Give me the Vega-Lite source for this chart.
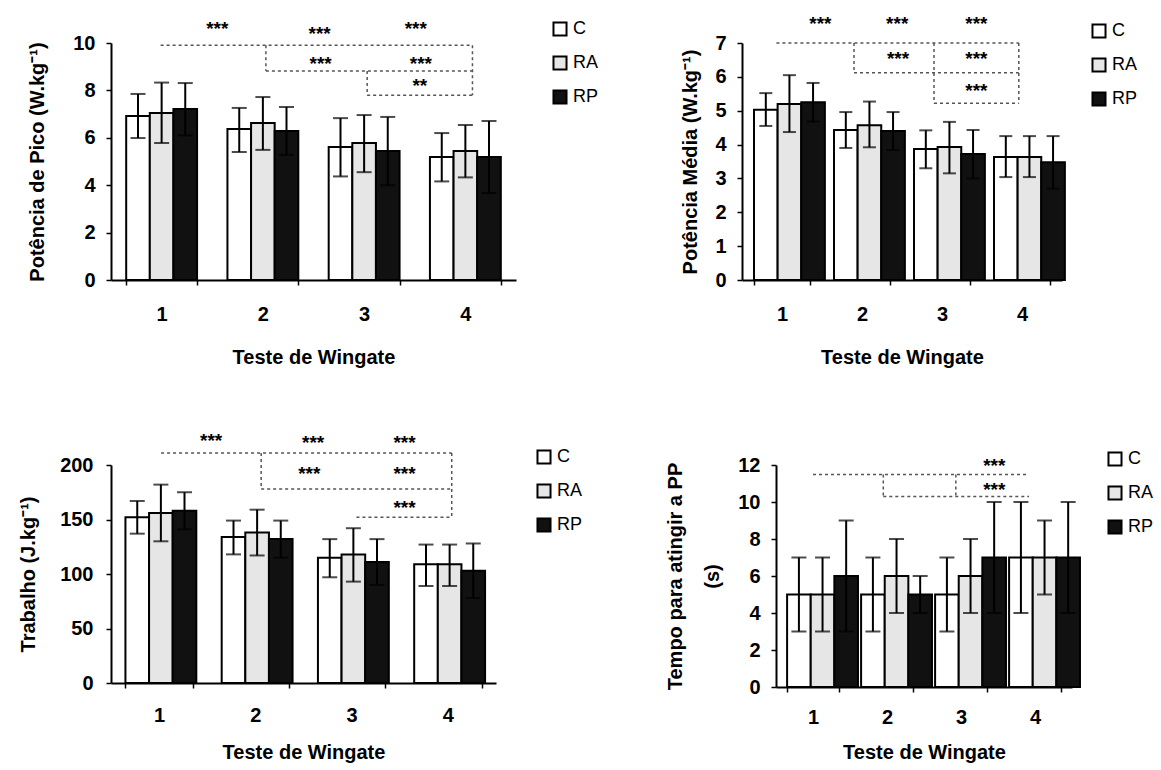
{
  "$schema": "https://vega.github.io/schema/vega-lite/v6.json",
  "background": "white",
  "padding": {"left": 18, "top": 14, "right": 5, "bottom": 5},
  "config": {
    "font": "Liberation Sans",
    "view": {"stroke": null},
    "axis": {
      "domainColor": "black", "domainWidth": 2, "tickColor": "black", "tickWidth": 1.5, "tickSize": 5,
      "grid": false, "labelFont": "Liberation Sans", "labelFontWeight": "bold", "labelFontSize": 20,
      "labelColor": "black", "titleFont": "Liberation Sans", "titleFontWeight": "bold", "titleFontSize": 20,
      "titleColor": "black", "labelOverlap": false
    },
    "axisX": {"labelAngle": 0, "labelPadding": 19, "titlePadding": 23, "tickBand": "extent"},
    "axisY": {"labelPadding": 11},
    "legend": {
      "orient": "none", "symbolType": "square", "symbolSize": 170, "symbolStrokeColor": "black",
      "symbolStrokeWidth": 2, "labelFontSize": 18, "labelFont": "Liberation Sans", "labelColor": "black",
      "rowPadding": 12, "padding": 0, "labelOffset": 4
    }
  },
  "datasets": {
    "bars": [
      {"painel": "P1", "teste": "1", "grupo": "C", "media": 6.92, "lo": 5.99, "hi": 7.85},
      {"painel": "P1", "teste": "1", "grupo": "RA", "media": 7.05, "lo": 5.78, "hi": 8.33},
      {"painel": "P1", "teste": "1", "grupo": "RP", "media": 7.22, "lo": 6.1, "hi": 8.31},
      {"painel": "P1", "teste": "2", "grupo": "C", "media": 6.37, "lo": 5.4, "hi": 7.26},
      {"painel": "P1", "teste": "2", "grupo": "RA", "media": 6.62, "lo": 5.49, "hi": 7.72},
      {"painel": "P1", "teste": "2", "grupo": "RP", "media": 6.29, "lo": 5.28, "hi": 7.3},
      {"painel": "P1", "teste": "3", "grupo": "C", "media": 5.61, "lo": 4.37, "hi": 6.83},
      {"painel": "P1", "teste": "3", "grupo": "RA", "media": 5.78, "lo": 4.55, "hi": 6.96},
      {"painel": "P1", "teste": "3", "grupo": "RP", "media": 5.44, "lo": 4.0, "hi": 6.88},
      {"painel": "P1", "teste": "4", "grupo": "C", "media": 5.19, "lo": 4.16, "hi": 6.2},
      {"painel": "P1", "teste": "4", "grupo": "RA", "media": 5.44, "lo": 4.33, "hi": 6.54},
      {"painel": "P1", "teste": "4", "grupo": "RP", "media": 5.19, "lo": 3.67, "hi": 6.71},
      {"painel": "P2", "teste": "1", "grupo": "C", "media": 5.03, "lo": 4.55, "hi": 5.52},
      {"painel": "P2", "teste": "1", "grupo": "RA", "media": 5.2, "lo": 4.37, "hi": 6.05},
      {"painel": "P2", "teste": "1", "grupo": "RP", "media": 5.25, "lo": 4.68, "hi": 5.82},
      {"painel": "P2", "teste": "2", "grupo": "C", "media": 4.43, "lo": 3.9, "hi": 4.96},
      {"painel": "P2", "teste": "2", "grupo": "RA", "media": 4.57, "lo": 3.92, "hi": 5.27},
      {"painel": "P2", "teste": "2", "grupo": "RP", "media": 4.4, "lo": 3.84, "hi": 4.96},
      {"painel": "P2", "teste": "3", "grupo": "C", "media": 3.87, "lo": 3.3, "hi": 4.42},
      {"painel": "P2", "teste": "3", "grupo": "RA", "media": 3.93, "lo": 3.15, "hi": 4.67},
      {"painel": "P2", "teste": "3", "grupo": "RP", "media": 3.72, "lo": 3.0, "hi": 4.43},
      {"painel": "P2", "teste": "4", "grupo": "C", "media": 3.63, "lo": 3.04, "hi": 4.25},
      {"painel": "P2", "teste": "4", "grupo": "RA", "media": 3.63, "lo": 3.04, "hi": 4.25},
      {"painel": "P2", "teste": "4", "grupo": "RP", "media": 3.48, "lo": 2.7, "hi": 4.25},
      {"painel": "P3", "teste": "1", "grupo": "C", "media": 152, "lo": 137, "hi": 167},
      {"painel": "P3", "teste": "1", "grupo": "RA", "media": 156, "lo": 130, "hi": 182},
      {"painel": "P3", "teste": "1", "grupo": "RP", "media": 158, "lo": 141, "hi": 175},
      {"painel": "P3", "teste": "2", "grupo": "C", "media": 134, "lo": 118, "hi": 149},
      {"painel": "P3", "teste": "2", "grupo": "RA", "media": 138, "lo": 117, "hi": 159},
      {"painel": "P3", "teste": "2", "grupo": "RP", "media": 132, "lo": 115, "hi": 149},
      {"painel": "P3", "teste": "3", "grupo": "C", "media": 115, "lo": 97, "hi": 132},
      {"painel": "P3", "teste": "3", "grupo": "RA", "media": 118, "lo": 93, "hi": 142},
      {"painel": "P3", "teste": "3", "grupo": "RP", "media": 111, "lo": 90, "hi": 132},
      {"painel": "P3", "teste": "4", "grupo": "C", "media": 109, "lo": 89, "hi": 127},
      {"painel": "P3", "teste": "4", "grupo": "RA", "media": 109, "lo": 89, "hi": 127},
      {"painel": "P3", "teste": "4", "grupo": "RP", "media": 103, "lo": 78, "hi": 128},
      {"painel": "P4", "teste": "1", "grupo": "C", "media": 5, "lo": 3, "hi": 7},
      {"painel": "P4", "teste": "1", "grupo": "RA", "media": 5, "lo": 3, "hi": 7},
      {"painel": "P4", "teste": "1", "grupo": "RP", "media": 6, "lo": 3, "hi": 9},
      {"painel": "P4", "teste": "2", "grupo": "C", "media": 5, "lo": 3, "hi": 7},
      {"painel": "P4", "teste": "2", "grupo": "RA", "media": 6, "lo": 4, "hi": 8},
      {"painel": "P4", "teste": "2", "grupo": "RP", "media": 5, "lo": 4, "hi": 6},
      {"painel": "P4", "teste": "3", "grupo": "C", "media": 5, "lo": 3, "hi": 7},
      {"painel": "P4", "teste": "3", "grupo": "RA", "media": 6, "lo": 4, "hi": 8},
      {"painel": "P4", "teste": "3", "grupo": "RP", "media": 7, "lo": 4, "hi": 10},
      {"painel": "P4", "teste": "4", "grupo": "C", "media": 7, "lo": 4, "hi": 10},
      {"painel": "P4", "teste": "4", "grupo": "RA", "media": 7, "lo": 5, "hi": 9},
      {"painel": "P4", "teste": "4", "grupo": "RP", "media": 7, "lo": 4, "hi": 10}
    ],
    "brackets": [
      {"painel": "P1", "xa": 0.99, "xb": 4.07, "ya": 9.9, "yb": 9.9},
      {"painel": "P1", "xa": 2.03, "xb": 4.07, "ya": 8.82, "yb": 8.82},
      {"painel": "P1", "xa": 2.03, "xb": 2.03, "ya": 9.9, "yb": 8.82},
      {"painel": "P1", "xa": 4.07, "xb": 4.07, "ya": 9.9, "yb": 7.8},
      {"painel": "P1", "xa": 3.03, "xb": 4.07, "ya": 7.8, "yb": 7.8},
      {"painel": "P1", "xa": 3.03, "xb": 3.03, "ya": 8.82, "yb": 7.8},
      {"painel": "P2", "xa": 0.93, "xb": 3.96, "ya": 7.0, "yb": 7.0},
      {"painel": "P2", "xa": 1.9, "xb": 1.9, "ya": 7.0, "yb": 6.12},
      {"painel": "P2", "xa": 1.9, "xb": 3.96, "ya": 6.12, "yb": 6.12},
      {"painel": "P2", "xa": 2.9, "xb": 2.9, "ya": 7.0, "yb": 5.22},
      {"painel": "P2", "xa": 3.96, "xb": 3.96, "ya": 7.0, "yb": 5.22},
      {"painel": "P2", "xa": 2.9, "xb": 3.96, "ya": 5.22, "yb": 5.22},
      {"painel": "P3", "xa": 1.02, "xb": 4.04, "ya": 211, "yb": 211},
      {"painel": "P3", "xa": 2.06, "xb": 2.06, "ya": 211, "yb": 178},
      {"painel": "P3", "xa": 2.06, "xb": 4.04, "ya": 178, "yb": 178},
      {"painel": "P3", "xa": 4.04, "xb": 4.04, "ya": 211, "yb": 152},
      {"painel": "P3", "xa": 3.05, "xb": 4.04, "ya": 152, "yb": 152},
      {"painel": "P4", "xa": 1.0, "xb": 3.9, "ya": 11.48, "yb": 11.48},
      {"painel": "P4", "xa": 1.95, "xb": 1.95, "ya": 11.48, "yb": 10.3},
      {"painel": "P4", "xa": 1.95, "xb": 3.92, "ya": 10.3, "yb": 10.3},
      {"painel": "P4", "xa": 2.93, "xb": 2.93, "ya": 11.48, "yb": 10.3}
    ],
    "stars": [
      {"painel": "P1", "txt": "***", "xs": 1.55, "ys": 10.76},
      {"painel": "P1", "txt": "***", "xs": 2.56, "ys": 10.55},
      {"painel": "P1", "txt": "***", "xs": 3.51, "ys": 10.76},
      {"painel": "P1", "txt": "***", "xs": 2.57, "ys": 9.28},
      {"painel": "P1", "txt": "***", "xs": 3.56, "ys": 9.28},
      {"painel": "P1", "txt": "**", "xs": 3.55, "ys": 8.36},
      {"painel": "P2", "txt": "***", "xs": 1.48, "ys": 7.68},
      {"painel": "P2", "txt": "***", "xs": 2.44, "ys": 7.68},
      {"painel": "P2", "txt": "***", "xs": 3.43, "ys": 7.68},
      {"painel": "P2", "txt": "***", "xs": 2.45, "ys": 6.65},
      {"painel": "P2", "txt": "***", "xs": 3.43, "ys": 6.65},
      {"painel": "P2", "txt": "***", "xs": 3.43, "ys": 5.7},
      {"painel": "P3", "txt": "***", "xs": 1.54, "ys": 226},
      {"painel": "P3", "txt": "***", "xs": 2.6, "ys": 224},
      {"painel": "P3", "txt": "***", "xs": 3.55, "ys": 224},
      {"painel": "P3", "txt": "***", "xs": 2.56, "ys": 195},
      {"painel": "P3", "txt": "***", "xs": 3.55, "ys": 195},
      {"painel": "P3", "txt": "***", "xs": 3.55, "ys": 164},
      {"painel": "P4", "txt": "***", "xs": 3.45, "ys": 12.15},
      {"painel": "P4", "txt": "***", "xs": 3.45, "ys": 10.86}
    ]
  },
  "resolve": {"scale": {"color": "independent"}, "legend": {"color": "independent"}},
  "spacing": 64,
  "vconcat": [
    {
      "spacing": 81,
      "resolve": {"scale": {"color": "independent"}, "legend": {"color": "independent"}},
      "hconcat": [
        {
          "width": 405, "height": 237,
          "resolve": {"scale": {"x": "independent", "y": "independent"}},
          "layer": [
            {
              "data": {"name": "bars"},
              "transform": [{"filter": "datum.painel == 'P1'"}],
              "resolve": {"scale": {"y": "independent"}},
              "encoding": {
                "x": {"field": "teste", "type": "nominal", "scale": {"paddingInner": 0.3, "paddingOuter": 0.15}, "axis": {"title": "Teste de Wingate"}},
                "xOffset": {"field": "grupo", "type": "nominal", "scale": {"paddingInner": 0, "paddingOuter": 0}}
              },
              "layer": [
                {
                  "mark": {"type": "bar", "stroke": "black", "strokeWidth": 2},
                  "encoding": {
                    "y": {"field": "media", "type": "quantitative", "scale": {"domain": [0, 10], "nice": false}, "axis": {"title": "Potência de Pico (W.kg⁻¹)", "values": [0, 2, 4, 6, 8, 10], "titlePadding": 25}},
                    "color": {"field": "grupo", "type": "nominal", "scale": {"domain": ["C", "RA", "RP"], "range": ["#ffffff", "#e6e6e6", "#111111"]}, "legend": {"title": null, "orient": "none", "legendX": 440, "legendY": -23}}
                  }
                },
                {
                  "mark": {"type": "rule", "color": "black", "strokeWidth": 2},
                  "encoding": {"y": {"field": "lo", "type": "quantitative", "scale": {"domain": [0, 10], "nice": false}, "axis": null}, "y2": {"field": "hi"}}
                },
                {
                  "mark": {"type": "tick", "color": "black", "thickness": 2, "size": 15},
                  "encoding": {"y": {"field": "hi", "type": "quantitative", "scale": {"domain": [0, 10], "nice": false}, "axis": null}}
                },
                {
                  "mark": {"type": "tick", "color": "black", "thickness": 2, "size": 15},
                  "encoding": {"y": {"field": "lo", "type": "quantitative", "scale": {"domain": [0, 10], "nice": false}, "axis": null}}
                }
              ]
            },
            {
              "data": {"name": "brackets"},
              "transform": [{"filter": "datum.painel == 'P1'"}],
              "mark": {"type": "rule", "color": "#555555", "strokeWidth": 1.5, "strokeDash": [3, 3]},
              "encoding": {
                "x": {"field": "xa", "type": "quantitative", "scale": {"domain": [0.5, 4.5], "nice": false, "zero": false}, "axis": null},
                "x2": {"field": "xb"},
                "y": {"field": "ya", "type": "quantitative", "scale": {"domain": [0, 10], "nice": false}, "axis": null},
                "y2": {"field": "yb"}
              }
            },
            {
              "data": {"name": "stars"},
              "transform": [{"filter": "datum.painel == 'P1'"}],
              "mark": {"type": "text", "fontSize": 19, "fontWeight": "bold", "baseline": "middle", "dy": 4, "color": "black"},
              "encoding": {
                "x": {"field": "xs", "type": "quantitative", "scale": {"domain": [0.5, 4.5], "nice": false, "zero": false}, "axis": null},
                "y": {"field": "ys", "type": "quantitative", "scale": {"domain": [0, 10], "nice": false}, "axis": null},
                "text": {"field": "txt"}
              }
            }
          ]
        },
        {
          "width": 320, "height": 237,
          "resolve": {"scale": {"x": "independent", "y": "independent"}},
          "layer": [
            {
              "data": {"name": "bars"},
              "transform": [{"filter": "datum.painel == 'P2'"}],
              "resolve": {"scale": {"y": "independent"}},
              "encoding": {
                "x": {"field": "teste", "type": "nominal", "scale": {"paddingInner": 0.3, "paddingOuter": 0.15}, "axis": {"title": "Teste de Wingate"}},
                "xOffset": {"field": "grupo", "type": "nominal", "scale": {"paddingInner": 0, "paddingOuter": 0}}
              },
              "layer": [
                {
                  "mark": {"type": "bar", "stroke": "black", "strokeWidth": 2},
                  "encoding": {
                    "y": {"field": "media", "type": "quantitative", "scale": {"domain": [0, 7], "nice": false}, "axis": {"title": "Potência Média (W.kg⁻¹)", "values": [0, 1, 2, 3, 4, 5, 6, 7], "titlePadding": 14}},
                    "color": {"field": "grupo", "type": "nominal", "scale": {"domain": ["C", "RA", "RP"], "range": ["#ffffff", "#e6e6e6", "#111111"]}, "legend": {"title": null, "orient": "none", "legendX": 348, "legendY": -21}}
                  }
                },
                {
                  "mark": {"type": "rule", "color": "black", "strokeWidth": 2},
                  "encoding": {"y": {"field": "lo", "type": "quantitative", "scale": {"domain": [0, 7], "nice": false}, "axis": null}, "y2": {"field": "hi"}}
                },
                {
                  "mark": {"type": "tick", "color": "black", "thickness": 2, "size": 13},
                  "encoding": {"y": {"field": "hi", "type": "quantitative", "scale": {"domain": [0, 7], "nice": false}, "axis": null}}
                },
                {
                  "mark": {"type": "tick", "color": "black", "thickness": 2, "size": 13},
                  "encoding": {"y": {"field": "lo", "type": "quantitative", "scale": {"domain": [0, 7], "nice": false}, "axis": null}}
                }
              ]
            },
            {
              "data": {"name": "brackets"},
              "transform": [{"filter": "datum.painel == 'P2'"}],
              "mark": {"type": "rule", "color": "#555555", "strokeWidth": 1.5, "strokeDash": [3, 3]},
              "encoding": {
                "x": {"field": "xa", "type": "quantitative", "scale": {"domain": [0.5, 4.5], "nice": false, "zero": false}, "axis": null},
                "x2": {"field": "xb"},
                "y": {"field": "ya", "type": "quantitative", "scale": {"domain": [0, 7], "nice": false}, "axis": null},
                "y2": {"field": "yb"}
              }
            },
            {
              "data": {"name": "stars"},
              "transform": [{"filter": "datum.painel == 'P2'"}],
              "mark": {"type": "text", "fontSize": 19, "fontWeight": "bold", "baseline": "middle", "dy": 4, "color": "black"},
              "encoding": {
                "x": {"field": "xs", "type": "quantitative", "scale": {"domain": [0.5, 4.5], "nice": false, "zero": false}, "axis": null},
                "y": {"field": "ys", "type": "quantitative", "scale": {"domain": [0, 7], "nice": false}, "axis": null},
                "text": {"field": "txt"}
              }
            }
          ]
        }
      ]
    },
    {
      "spacing": 82,
      "resolve": {"scale": {"color": "independent"}, "legend": {"color": "independent"}},
      "hconcat": [
        {
          "width": 385, "height": 218,
          "resolve": {"scale": {"x": "independent", "y": "independent"}},
          "layer": [
            {
              "data": {"name": "bars"},
              "transform": [{"filter": "datum.painel == 'P3'"}],
              "resolve": {"scale": {"y": "independent"}},
              "encoding": {
                "x": {"field": "teste", "type": "nominal", "scale": {"paddingInner": 0.3, "paddingOuter": 0.15}, "axis": {"title": "Teste de Wingate", "labelPadding": 17, "titlePadding": 17}},
                "xOffset": {"field": "grupo", "type": "nominal", "scale": {"paddingInner": 0, "paddingOuter": 0}}
              },
              "layer": [
                {
                  "mark": {"type": "bar", "stroke": "black", "strokeWidth": 2},
                  "encoding": {
                    "y": {"field": "media", "type": "quantitative", "scale": {"domain": [0, 200], "nice": false}, "axis": {"title": "Trabalho (J.kg⁻¹)", "values": [0, 50, 100, 150, 200], "titlePadding": 21, "labelPadding": 13}},
                    "color": {"field": "grupo", "type": "nominal", "scale": {"domain": ["C", "RA", "RP"], "range": ["#ffffff", "#e6e6e6", "#111111"]}, "legend": {"title": null, "orient": "none", "legendX": 424, "legendY": -17}}
                  }
                },
                {
                  "mark": {"type": "rule", "color": "black", "strokeWidth": 2},
                  "encoding": {"y": {"field": "lo", "type": "quantitative", "scale": {"domain": [0, 200], "nice": false}, "axis": null}, "y2": {"field": "hi"}}
                },
                {
                  "mark": {"type": "tick", "color": "black", "thickness": 2, "size": 15},
                  "encoding": {"y": {"field": "hi", "type": "quantitative", "scale": {"domain": [0, 200], "nice": false}, "axis": null}}
                },
                {
                  "mark": {"type": "tick", "color": "black", "thickness": 2, "size": 15},
                  "encoding": {"y": {"field": "lo", "type": "quantitative", "scale": {"domain": [0, 200], "nice": false}, "axis": null}}
                }
              ]
            },
            {
              "data": {"name": "brackets"},
              "transform": [{"filter": "datum.painel == 'P3'"}],
              "mark": {"type": "rule", "color": "#555555", "strokeWidth": 1.5, "strokeDash": [3, 3]},
              "encoding": {
                "x": {"field": "xa", "type": "quantitative", "scale": {"domain": [0.5, 4.5], "nice": false, "zero": false}, "axis": null},
                "x2": {"field": "xb"},
                "y": {"field": "ya", "type": "quantitative", "scale": {"domain": [0, 200], "nice": false}, "axis": null},
                "y2": {"field": "yb"}
              }
            },
            {
              "data": {"name": "stars"},
              "transform": [{"filter": "datum.painel == 'P3'"}],
              "mark": {"type": "text", "fontSize": 19, "fontWeight": "bold", "baseline": "middle", "dy": 4, "color": "black"},
              "encoding": {
                "x": {"field": "xs", "type": "quantitative", "scale": {"domain": [0.5, 4.5], "nice": false, "zero": false}, "axis": null},
                "y": {"field": "ys", "type": "quantitative", "scale": {"domain": [0, 200], "nice": false}, "axis": null},
                "text": {"field": "txt"}
              }
            }
          ]
        },
        {
          "width": 296, "height": 222,
          "resolve": {"scale": {"x": "independent", "y": "independent"}},
          "layer": [
            {
              "data": {"name": "bars"},
              "transform": [{"filter": "datum.painel == 'P4'"}],
              "resolve": {"scale": {"y": "independent"}},
              "encoding": {
                "x": {"field": "teste", "type": "nominal", "scale": {"paddingInner": 0.3, "paddingOuter": 0.15}, "axis": {"title": "Teste de Wingate", "labelPadding": 15, "titlePadding": 15}},
                "xOffset": {"field": "grupo", "type": "nominal", "scale": {"paddingInner": 0, "paddingOuter": 0}}
              },
              "layer": [
                {
                  "mark": {"type": "bar", "stroke": "black", "strokeWidth": 2},
                  "encoding": {
                    "y": {"field": "media", "type": "quantitative", "scale": {"domain": [0, 12], "nice": false}, "axis": {"title": ["Tempo para atingir a PP", "(s)"], "values": [0, 2, 4, 6, 8, 10, 12], "titlePadding": 15, "titleLineHeight": 37}},
                    "color": {"field": "grupo", "type": "nominal", "scale": {"domain": ["C", "RA", "RP"], "range": ["#ffffff", "#e6e6e6", "#111111"]}, "legend": {"title": null, "orient": "none", "legendX": 330, "legendY": -15}}
                  }
                },
                {
                  "mark": {"type": "rule", "color": "black", "strokeWidth": 2},
                  "encoding": {"y": {"field": "lo", "type": "quantitative", "scale": {"domain": [0, 12], "nice": false}, "axis": null}, "y2": {"field": "hi"}}
                },
                {
                  "mark": {"type": "tick", "color": "black", "thickness": 2, "size": 15},
                  "encoding": {"y": {"field": "hi", "type": "quantitative", "scale": {"domain": [0, 12], "nice": false}, "axis": null}}
                },
                {
                  "mark": {"type": "tick", "color": "black", "thickness": 2, "size": 15},
                  "encoding": {"y": {"field": "lo", "type": "quantitative", "scale": {"domain": [0, 12], "nice": false}, "axis": null}}
                }
              ]
            },
            {
              "data": {"name": "brackets"},
              "transform": [{"filter": "datum.painel == 'P4'"}],
              "mark": {"type": "rule", "color": "#555555", "strokeWidth": 1.5, "strokeDash": [3, 3]},
              "encoding": {
                "x": {"field": "xa", "type": "quantitative", "scale": {"domain": [0.5, 4.5], "nice": false, "zero": false}, "axis": null},
                "x2": {"field": "xb"},
                "y": {"field": "ya", "type": "quantitative", "scale": {"domain": [0, 12], "nice": false}, "axis": null},
                "y2": {"field": "yb"}
              }
            },
            {
              "data": {"name": "stars"},
              "transform": [{"filter": "datum.painel == 'P4'"}],
              "mark": {"type": "text", "fontSize": 19, "fontWeight": "bold", "baseline": "middle", "dy": 4, "color": "black"},
              "encoding": {
                "x": {"field": "xs", "type": "quantitative", "scale": {"domain": [0.5, 4.5], "nice": false, "zero": false}, "axis": null},
                "y": {"field": "ys", "type": "quantitative", "scale": {"domain": [0, 12], "nice": false}, "axis": null},
                "text": {"field": "txt"}
              }
            }
          ]
        }
      ]
    }
  ]
}
